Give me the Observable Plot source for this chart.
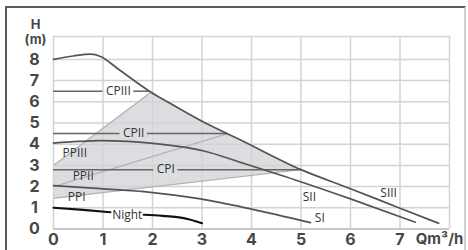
<!DOCTYPE html>
<html><head><meta charset="utf-8">
<script src="https://cdn.jsdelivr.net/npm/d3@7"></script>
<script src="https://cdn.jsdelivr.net/npm/@observablehq/plot@0.6"></script>
<style>
body{margin:0;background:#fff;}
#wrap{position:relative;width:468px;height:250px;overflow:hidden;}
#border{position:absolute;left:5px;top:6px;width:461px;height:260px;border-top:2px solid #5b5b5b;border-left:2px solid #5b5b5b;border-right:2px solid #d2d2d2;box-sizing:border-box;pointer-events:none;}
</style></head>
<body><div id="wrap"><div id="chart"></div><div id="border"></div></div>
<script>
// ---- data ----
const xTicks = [0,1,2,3,4,5,6,7];
const yTicks = [0,1,2,3,4,5,6,7,8];
const xGrid = [0,1,2,3,4,5,6,7,8];
const yGrid = [1,2,3,4,5,6,7,8];
const yMax = 9.08;
const xUnit = "Qm³/h";
const yUnit = ["H","(m)"];

// speed curves (Q m3/h, H m)
const s3Q = [0,0.4,0.75,0.95,1.3,1.97,2.3,3.0,3.78,5.0,6.0,7.0,7.78];
const s3H = [8.0,8.16,8.25,8.14,7.56,6.45,6.0,5.08,4.2,2.8,1.9,0.98,0.27];
const s2Q = [0,0.5,0.95,1.5,1.96,2.63,3.04,3.78,4.9,6.0,7.31];
const s2H = [4.05,4.13,4.17,4.13,4.05,3.86,3.68,3.14,2.3,1.42,0.32];
const s1Q = [0,0.95,1.96,2.97,3.98,5.19];
const s1H = [2.05,1.9,1.73,1.42,0.95,0.3];
// night curve (NaN = gap where the label sits)
const nightQ = [0,0.6,1.15,1.5,1.82,2.2,2.5,2.75,3.0];
const nightH = [1.0,0.9,0.79,NaN,0.67,0.62,0.56,0.45,0.27];

// constant pressure lines
const cpNames = ["CPI","CPII","CPIII"];
const cpH = [2.8,4.5,6.5];
const cpEndQ = [5.0,3.52,1.94];
const cpLabelQ = [2.27,1.62,1.31];

// proportional pressure lines
const ppNames = ["PPI","PPII","PPIII"];
const ppStartH = [1.45,2.0,3.0];
const ppEndQ = [5.0,3.52,1.97];
const ppEndH = [2.8,4.5,6.45];

// free labels
const labelNames = ["PPIII","PPII","PPI","SIII","SII","SI","Night"];
const labelQ = [0.43,0.6,0.47,6.77,5.17,5.38,1.49];
const labelH = [3.56,2.48,1.48,1.67,1.49,0.52,0.63];

// ---- build tables ----
const W = 468, H = 250, mL = 53, mR = 19, mT = 36, mB = 21.5;
const pxPerQ = (W - mL - mR) / 8;
const labelFont = 12, labelFamily = "Open Sans";
const ctx = document.createElement("canvas").getContext("2d");
ctx.font = `${labelFont}px "${labelFamily}"`;

const toPts = (qs, hs, name) => qs.map((q,i)=>({q, h: hs[i], name}));
const s3 = toPts(s3Q, s3H, "SIII"), s2 = toPts(s2Q, s2H, "SII"), s1 = toPts(s1Q, s1H, "SI");
const night = toPts(nightQ, nightH, "Night");

const cpSegs = [];
cpNames.forEach((n,i)=>{
  const half = (ctx.measureText(n).width/2 + 3) / pxPerQ;
  cpSegs.push({x1:0, x2:cpLabelQ[i]-half, y:cpH[i]});
  cpSegs.push({x1:cpLabelQ[i]+half, x2:cpEndQ[i], y:cpH[i]});
});
const cpLabels = cpNames.map((n,i)=>({name:n, q:cpLabelQ[i], h:cpH[i]}));
const ppLines = ppNames.map((n,i)=>({name:n, x1:0, y1:ppStartH[i], x2:ppEndQ[i], y2:ppEndH[i]}));
const ppAt = (i, q) => ppStartH[i] + (ppEndH[i]-ppStartH[i]) * q / ppEndQ[i];
// shaded zone: between PPI and PPIII / max curve
const shadeLeft = [0, ppEndQ[2]].map(q=>({q, lo: ppAt(0,q), hi: ppAt(2,q)}));
const shadeRight = s3.filter(d=>d.q>=ppEndQ[2]-1e-9 && d.q<=ppEndQ[0]+1e-9).map(d=>({q:d.q, lo: ppAt(0,d.q), hi:d.h}));
shadeRight[0].hi = ppEndH[2];
const labels = labelNames.map((n,i)=>({name:n, q:labelQ[i], h:labelH[i]}));

const tickFont = {fontFamily:"Inter", fontWeight:700, fontSize:16, fill:"#474747", textAnchor:"middle", lineAnchor:"middle"};
const curveColor = "#545454";

const chart = Plot.plot({
  width: W, height: H,
  marginLeft: mL, marginRight: mR, marginTop: mT, marginBottom: mB,
  x: {domain:[0,8], axis:null},
  y: {domain:[0,yMax], axis:null},
  style: {background:"transparent", overflow:"visible", fontFamily: labelFamily},
  marks: [
    Plot.areaY(shadeLeft, {x:"q", y1:"lo", y2:"hi", fill:"#dcdde0"}),
    Plot.areaY(shadeRight, {x:"q", y1:"lo", y2:"hi", fill:"#dcdde0", curve:"monotone-x"}),
    Plot.ruleX(xGrid, {stroke:"#d3d3d3", strokeWidth:1.5}),
    Plot.ruleY(yGrid, {stroke:"#d3d3d3", strokeWidth:1.5}),
    Plot.ruleY([yMax], {stroke:"#d3d3d3", strokeWidth:1.5}),
    Plot.ruleY([0], {stroke:"#c9c9c9", strokeWidth:2.2}),
    Plot.link(ppLines, {x1:"x1", y1:"y1", x2:"x2", y2:"y2", stroke:"#b4b4b4", strokeWidth:1.3}),
    Plot.ruleY(cpSegs, {x1:"x1", x2:"x2", y:"y", stroke:"#666", strokeWidth:1.5}),
    Plot.line(s3, {x:"q", y:"h", stroke:curveColor, strokeWidth:1.7, curve:"monotone-x"}),
    Plot.line(s2, {x:"q", y:"h", stroke:curveColor, strokeWidth:1.7, curve:"monotone-x"}),
    Plot.line(s1, {x:"q", y:"h", stroke:curveColor, strokeWidth:1.7, curve:"monotone-x"}),
    Plot.line(night, {x:"q", y:"h", stroke:"#111", strokeWidth:2.1, curve:"monotone-x"}),
    Plot.text(cpLabels, {x:"q", y:"h", text:"name", fontSize:labelFont, fill:"#333"}),
    Plot.text(labels, {x:"q", y:"h", text:"name", fontSize:labelFont, fill:"#333"}),
    Plot.text(xTicks, {x:d=>d, y:0, dy:10.5, text:d=>String(d), ...tickFont}),
    Plot.text(yTicks, {x:0, y:d=>d, dx:-19, text:d=>String(d), ...tickFont}),
    Plot.text([xUnit], {frameAnchor:"bottom-right", dx:-10, dy:10.5, text:d=>d, ...tickFont, fontSize:15}),
    Plot.text([yUnit.join("\n")], {frameAnchor:"top-left", dx:-18, dy:-5, text:d=>d, ...tickFont, fontSize:13, lineHeight:1.2})
  ]
});
document.getElementById("chart").appendChild(chart);
</script>
</body></html>
